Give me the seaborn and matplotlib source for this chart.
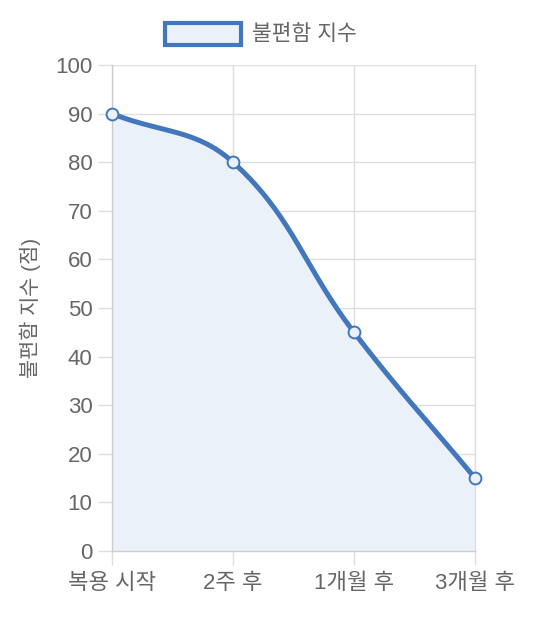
import numpy as np
import pandas as pd
import matplotlib
matplotlib.use("Agg")
import matplotlib.pyplot as plt
from matplotlib.patches import Rectangle
import seaborn as sns

categories = ["복용 시작", "2주 후", "1개월 후", "3개월 후"]
values = [90, 80, 45, 15]
series_name = "불편함 지수"
y_label = "불편함 지수 (점)"
y_ticks = list(range(0, 101, 10))

LINE = "#4277bd"
FILL = "#ebf1f9"
GRID = "#dedede"
AXIS = "#cccccc"
TEXT = "#666666"

sns.set_theme(style="white")
plt.rcParams['font.family'] = ['Liberation Sans', 'Noto Sans CJK KR', 'DejaVu Sans']

W, H = 533, 620
fig = plt.figure(figsize=(W / 100, H / 100), dpi=100)
L, R, T, B = 112, 475, 65, 551
ax = fig.add_axes([L / W, 1 - B / H, (R - L) / W, (B - T) / H])
ax.set_xlim(0, len(categories) - 1)
ax.set_ylim(0, 100)

# Chart.js-like bezier smoothing (tension 0.4) computed in pixel space
xs = np.arange(len(values), dtype=float)
sx = (R - L) / (len(values) - 1)
sy = (B - T) / 100.0
px = xs * sx
py = np.array(values, dtype=float) * sy
tension = 0.4
cps = []
for i in range(len(px)):
    pi = max(i - 1, 0)
    ni = min(i + 1, len(px) - 1)
    d01 = np.hypot(px[i] - px[pi], py[i] - py[pi])
    d12 = np.hypot(px[ni] - px[i], py[ni] - py[i])
    tot = d01 + d12
    s01 = d01 / tot if tot else 0
    s12 = d12 / tot if tot else 0
    fa, fb = tension * s01, tension * s12
    c1 = (px[i] - fa * (px[ni] - px[pi]), py[i] - fa * (py[ni] - py[pi]))
    c2 = (px[i] + fb * (px[ni] - px[pi]), py[i] + fb * (py[ni] - py[pi]))
    cps.append((c1, c2))
cx, cy = [], []
t = np.linspace(0, 1, 60)
for i in range(len(px) - 1):
    p0 = np.array([px[i], py[i]])
    p1 = np.array(cps[i][1])
    p2 = np.array(cps[i + 1][0])
    p3 = np.array([px[i + 1], py[i + 1]])
    seg = ((1 - t) ** 3)[:, None] * p0 + (3 * (1 - t) ** 2 * t)[:, None] * p1 \
        + (3 * (1 - t) * t ** 2)[:, None] * p2 + (t ** 3)[:, None] * p3
    cx.extend(seg[:, 0]); cy.extend(seg[:, 1])
curve = pd.DataFrame({"x": np.array(cx) / sx, "y": np.array(cy) / sy})

ax.fill_between(curve["x"], 0, curve["y"], color=FILL, zorder=1, lw=0)
sns.lineplot(data=curve, x="x", y="y", ax=ax, color=LINE, lw=3.6, sort=False,
             zorder=3, estimator=None)
pts = pd.DataFrame({"x": xs, "y": values})
ax.plot(pts["x"], pts["y"], ls="none", marker="o", ms=8.5, mfc=FILL, mec=LINE,
        mew=1.4, zorder=4, clip_on=False)

ax.set_yticks(y_ticks)
ax.set_xticks(xs)
ax.set_xticklabels(categories)
ax.grid(True, color=GRID, lw=1)
ax.set_axisbelow(True)
ax.spines["top"].set_visible(False)
ax.spines["right"].set_color(GRID)
ax.spines["right"].set_linewidth(1)
for s in ["left", "bottom"]:
    ax.spines[s].set_color(AXIS)
    ax.spines[s].set_linewidth(1)
ax.tick_params(axis="both", which="both", length=10, width=1, color=GRID,
               labelcolor=TEXT, labelsize=16, direction="out",
               left=True, bottom=True)
ax.tick_params(axis="y", pad=4)
ax.tick_params(axis="x", pad=6)
ax.set_xlabel("")
ax.set_ylabel(y_label, fontsize=15, color=TEXT, labelpad=10)

# legend (Chart.js style)
fig.patches.append(Rectangle((165 / W, 1 - 45 / H), 76 / W, 22 / H,
                             transform=fig.transFigure, facecolor=FILL,
                             edgecolor=LINE, lw=3, zorder=5))
fig.text(252 / W, 1 - 34 / H, series_name, fontsize=15.5, color=TEXT,
         va="center", ha="left")

fig.savefig("out.png", dpi=100)
